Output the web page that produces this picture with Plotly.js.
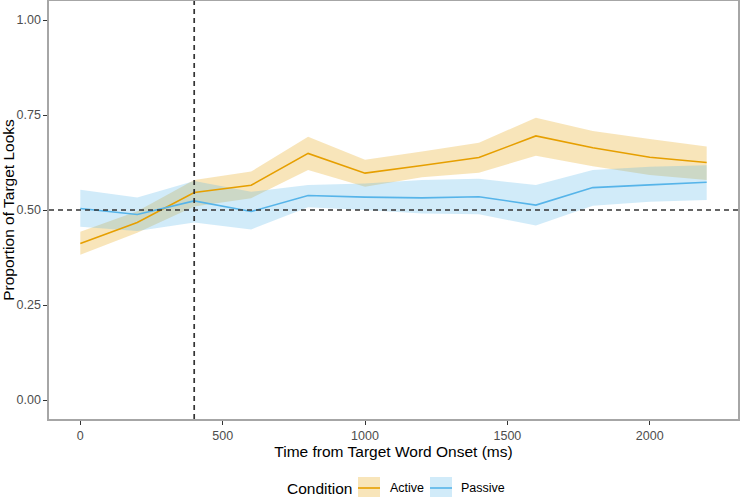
<!DOCTYPE html>
<html>
<head>
<meta charset="utf-8">
<script src="https://cdn.plot.ly/plotly-3.0.1.min.js"></script>
<style>
html,body{margin:0;padding:0;background:#fff;}
#chart{width:740px;height:497px;}
</style>
</head>
<body>
<div id="chart"></div>
<script>
// ---- data ----
var timeMs = [0, 200, 400, 600, 800, 1000, 1200, 1400, 1600, 1800, 2000, 2200];

var activeMean  = [0.412, 0.467, 0.546, 0.565, 0.649, 0.597, 0.617, 0.638, 0.695, 0.664, 0.639, 0.625];
var activeLower = [0.382, 0.440, 0.509, 0.531, 0.605, 0.561, 0.586, 0.598, 0.643, 0.615, 0.592, 0.579];
var activeUpper = [0.443, 0.497, 0.579, 0.601, 0.693, 0.632, 0.654, 0.677, 0.743, 0.708, 0.687, 0.667];

var passiveMean  = [0.504, 0.488, 0.524, 0.496, 0.538, 0.534, 0.532, 0.535, 0.513, 0.559, 0.566, 0.573];
var passiveLower = [0.456, 0.445, 0.467, 0.449, 0.507, 0.500, 0.491, 0.489, 0.459, 0.511, 0.522, 0.526];
var passiveUpper = [0.553, 0.533, 0.576, 0.548, 0.566, 0.570, 0.579, 0.582, 0.566, 0.605, 0.614, 0.618];

var conditionNames = ['Active', 'Passive'];
var yTickVals = [0, 0.25, 0.5, 0.75, 1];
var xTickVals = [0, 500, 1000, 1500, 2000];
var onsetLine = 400;
var chanceLevel = 0.5;

// ---- styles ----
var activeColor = '#E69F00';
var passiveColor = '#56B4E9';
var activeFill = 'rgba(230,159,0,0.27)';
var passiveFill = 'rgba(86,180,233,0.27)';
var FONT = '"Liberation Sans", Arial, Helvetica, sans-serif';

var W = 740, H = 497;
var M = {l: 49, r: 2, t: 1, b: 78};
function px(x){ return (x - M.l) / (W - M.l - M.r); }
function py(y){ return (H - M.b - y) / (H - M.t - M.b); }

function band(lower, upper, fill){
  return [
    {x: timeMs, y: lower, type: 'scatter', mode: 'lines', line: {width: 0, color: fill}, showlegend: false, hoverinfo: 'skip'},
    {x: timeMs, y: upper, type: 'scatter', mode: 'lines', fill: 'tonexty', fillcolor: fill, line: {width: 0, color: fill}, showlegend: false, hoverinfo: 'skip'}
  ];
}

var traces = [].concat(
  band(activeLower, activeUpper, activeFill),
  band(passiveLower, passiveUpper, passiveFill),
  [
    {x: timeMs, y: activeMean, type: 'scatter', mode: 'lines', name: conditionNames[0], line: {color: activeColor, width: 1.6}, showlegend: false},
    {x: timeMs, y: passiveMean, type: 'scatter', mode: 'lines', name: conditionNames[1], line: {color: passiveColor, width: 1.6}, showlegend: false}
  ]
);

// manual ggplot-like legend
var legendY = 488;
var keys = [
  {x0: 358, x1: 380, fill: activeFill, color: activeColor, label: conditionNames[0], tx: 388},
  {x0: 430, x1: 452, fill: passiveFill, color: passiveColor, label: conditionNames[1], tx: 459}
];

var dashStyle = {color: '#333333', width: 1.7, dash: '5px,4px'};
var shapes = [
  {type: 'line', xref: 'x', yref: 'paper', x0: onsetLine, x1: onsetLine, y0: 0, y1: 1, line: dashStyle, layer: 'above'},
  {type: 'line', xref: 'paper', yref: 'y', x0: 0, x1: 1, y0: chanceLevel, y1: chanceLevel, line: dashStyle, layer: 'above'}
];
var annotations = [
  {xref: 'paper', yref: 'paper', x: px(285), y: py(legendY), xanchor: 'left', yanchor: 'middle',
   text: 'Condition', showarrow: false, font: {family: FONT, size: 15.5, color: '#000'}}
];
keys.forEach(function(k){
  shapes.push({type: 'rect', xref: 'paper', yref: 'paper', x0: px(k.x0), x1: px(k.x1),
    y0: py(legendY - 11), y1: py(legendY + 11), fillcolor: k.fill, line: {width: 0}});
  shapes.push({type: 'line', xref: 'paper', yref: 'paper', x0: px(k.x0), x1: px(k.x1),
    y0: py(legendY), y1: py(legendY), line: {color: k.color, width: 1.6}});
  annotations.push({xref: 'paper', yref: 'paper', x: px(k.tx), y: py(legendY), xanchor: 'left', yanchor: 'middle',
    text: k.label, showarrow: false, font: {family: FONT, size: 12.5, color: '#000'}});
});

var layout = {
  width: W, height: H,
  margin: M,
  paper_bgcolor: '#ffffff', plot_bgcolor: '#ffffff',
  showlegend: false,
  font: {family: FONT, size: 12, color: '#000'},
  xaxis: {
    range: [-110, 2310], tickvals: xTickVals, ticktext: xTickVals.map(String),
    showgrid: false, zeroline: false,
    showline: true, linecolor: '#a6a6a6', linewidth: 1.6, mirror: true,
    ticks: 'outside', ticklen: 4, tickwidth: 1, tickcolor: '#333333',
    tickfont: {family: FONT, size: 12.5, color: '#4d4d4d'},
    title: {text: 'Time from Target Word Onset (ms)', font: {family: FONT, size: 15.5, color: '#000'}, standoff: 2},
    automargin: false
  },
  yaxis: {
    range: [-0.05, 1.05], tickvals: yTickVals, ticktext: yTickVals.map(function(v){return v.toFixed(2);}),
    showgrid: false, zeroline: false,
    showline: true, linecolor: '#a6a6a6', linewidth: 1.6, mirror: true,
    ticks: 'outside', ticklen: 4, tickwidth: 1, tickcolor: '#333333',
    tickfont: {family: FONT, size: 12.5, color: '#4d4d4d'},
    title: {text: 'Proportion of Target Looks', font: {family: FONT, size: 15.5, color: '#000'}, standoff: 1},
    automargin: false
  },
  shapes: shapes,
  annotations: annotations
};

Plotly.newPlot('chart', traces, layout, {displayModeBar: false, staticPlot: true});
</script>
</body>
</html>
